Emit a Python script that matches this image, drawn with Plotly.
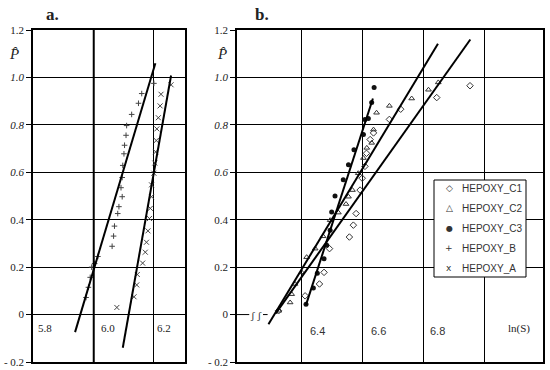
import plotly.graph_objects as go

# ---- panel a data ----
b_x = [5.974, 5.982, 5.988, 5.993, 6.003, 6.014, 6.062, 6.067, 6.070, 6.081, 6.085,
       6.096, 6.092, 6.096, 6.098, 6.102, 6.104, 6.109, 6.111, 6.128, 6.151, 6.162, 6.203]
b_y = [0.072, 0.115, 0.157, 0.200, 0.215, 0.245, 0.288, 0.331, 0.373, 0.426, 0.455,
       0.497, 0.535, 0.578, 0.629, 0.678, 0.714, 0.756, 0.797, 0.844, 0.891, 0.932, 0.975]

a_x = [6.078, 6.136, 6.145, 6.147, 6.165, 6.174, 6.178, 6.183, 6.188, 6.191, 6.195,
       6.195, 6.203, 6.206, 6.209, 6.211, 6.213, 6.218, 6.224, 6.227, 6.261]
a_y = [0.030, 0.075, 0.125, 0.169, 0.217, 0.263, 0.305, 0.353, 0.405, 0.448, 0.497,
       0.547, 0.596, 0.639, 0.686, 0.734, 0.783, 0.830, 0.880, 0.929, 0.969]

fit_b_x = [5.937, 6.208]
fit_b_y = [-0.074, 1.060]
fit_a_x = [6.098, 6.261]
fit_a_y = [-0.140, 1.008]

# ---- panel b data ----
c1_x = [6.324, 6.411, 6.458, 6.473, 6.491, 6.556, 6.569, 6.578, 6.591, 6.598, 6.607,
        6.612, 6.624, 6.635, 6.687, 6.724, 6.842, 6.951]
c1_y = [0.016, 0.079, 0.129, 0.178, 0.278, 0.327, 0.377, 0.426, 0.525, 0.575, 0.625,
        0.680, 0.738, 0.766, 0.823, 0.866, 0.915, 0.965]

c2_x = [6.325, 6.362, 6.367, 6.378, 6.400, 6.416, 6.444, 6.470, 6.493, 6.520, 6.545,
        6.553, 6.566, 6.585, 6.602, 6.613, 6.629, 6.635, 6.645, 6.687, 6.760, 6.815, 6.847]
c2_y = [0.016, 0.051, 0.086, 0.129, 0.178, 0.242, 0.278, 0.330, 0.398, 0.430, 0.466,
        0.497, 0.525, 0.596, 0.660, 0.703, 0.724, 0.780, 0.851, 0.880, 0.911, 0.948, 0.979]

c3_x = [6.414, 6.438, 6.451, 6.473, 6.482, 6.493, 6.498, 6.509, 6.536, 6.553, 6.571,
        6.602, 6.607, 6.618, 6.629, 6.637]
c3_y = [0.044, 0.112, 0.174, 0.235, 0.292, 0.356, 0.433, 0.500, 0.568, 0.632, 0.695,
        0.759, 0.823, 0.827, 0.894, 0.958]

fit_c1_x = [6.315, 6.952]
fit_c1_y = [0.005, 1.160]
fit_c2_x = [6.291, 6.846]
fit_c2_y = [-0.041, 1.142]
fit_c3_x = [6.414, 6.633]
fit_c3_y = [0.041, 0.911]

series_names = ["HEPOXY_C1", "HEPOXY_C2", "HEPOXY_C3", "HEPOXY_B", "HEPOXY_A"]
series_glyphs = ["◇", "△", "●", "+", "x"]

y_ticks = [-0.2, 0, 0.2, 0.4, 0.6, 0.8, 1.0, 1.2]
y_text = ["- 0.2", "0", "0.2", "0.4", "<i>0.6</i>", "<i>0.8</i>", "<i>1.0</i>", "1.2"]
xa_labels = ["5.8", "6.0", "6.2"]
xa_pos = [5.805, 6.018, 6.207]
xb_labels = ["6.4", "6.6", "6.8"]
xb_pos = [6.42, 6.62, 6.813]

SERIF = "Liberation Serif"
SANS = "Liberation Sans"
INK = "#111111"
W, H = 550, 370


def px_x(p):
    return p / W


def px_y(p):
    return 1 - p / H


fig = go.Figure()

fig.add_trace(go.Scatter(x=c1_x, y=c1_y, mode="markers", name="HEPOXY_C1", xaxis="x2", yaxis="y2",
                         marker=dict(symbol="diamond-open", size=5, color="#333", line=dict(width=1))))
fig.add_trace(go.Scatter(x=c2_x, y=c2_y, mode="markers", name="HEPOXY_C2", xaxis="x2", yaxis="y2",
                         marker=dict(symbol="triangle-up-open", size=5, color="#333", line=dict(width=1))))
fig.add_trace(go.Scatter(x=c3_x, y=c3_y, mode="markers", name="HEPOXY_C3", xaxis="x2", yaxis="y2",
                         marker=dict(symbol="circle", size=5, color=INK)))
fig.add_trace(go.Scatter(x=b_x, y=b_y, mode="markers", name="HEPOXY_B", xaxis="x", yaxis="y",
                         marker=dict(symbol="cross-thin", size=4, color="#888", line=dict(width=1))))
fig.add_trace(go.Scatter(x=a_x, y=a_y, mode="markers", name="HEPOXY_A", xaxis="x", yaxis="y",
                         marker=dict(symbol="x-thin", size=5, color="#333", line=dict(width=1))))

line_style = dict(color="black", width=2)
for fx, fy, xa, ya in [(fit_b_x, fit_b_y, "x", "y"), (fit_a_x, fit_a_y, "x", "y"),
                       (fit_c1_x, fit_c1_y, "x2", "y2"), (fit_c2_x, fit_c2_y, "x2", "y2"),
                       (fit_c3_x, fit_c3_y, "x2", "y2")]:
    fig.add_trace(go.Scatter(x=fx, y=fy, mode="lines", line=line_style, showlegend=False,
                             xaxis=xa, yaxis=ya, hoverinfo="skip", cliponaxis=False))

ydom = [px_y(362), px_y(30)]
axis_common = dict(showline=True, mirror=True, linecolor="black", linewidth=1.5,
                   ticks="", showticklabels=False, zeroline=False, automargin=False)
yaxis_common = dict(range=[-0.2, 1.2], domain=ydom, tickmode="array", tickvals=y_ticks,
                    ticktext=y_text, ticks="outside", ticklen=5, tickcolor="black",
                    showline=True, mirror=True, linecolor="black", linewidth=1.5,
                    zeroline=False, automargin=False,
                    tickfont=dict(family=SERIF, size=11, color="#222"))

fig.update_layout(
    width=W, height=H,
    margin=dict(l=0, r=0, t=0, b=0, autoexpand=False),
    paper_bgcolor="white", plot_bgcolor="white",
    showlegend=False,
    xaxis=dict(axis_common, domain=[px_x(33), px_x(185)], range=[5.795, 6.308],
               tickvals=[6.0, 6.2], showgrid=True, gridcolor="black", gridwidth=1),
    yaxis=dict(yaxis_common, anchor="x", showgrid=True, gridcolor="black", gridwidth=1),
    xaxis2=dict(axis_common, domain=[px_x(237), px_x(543)], range=[6.188, 7.19], anchor="y2",
                tickvals=[6.4, 6.6, 6.8, 7.0], showgrid=True, gridcolor="black", gridwidth=1),
    yaxis2=dict(yaxis_common, anchor="x2", showgrid=False,
                minor=dict(tickvals=[0.2, 0.4, 0.6, 0.8, 1.0], showgrid=True,
                           gridcolor="black", gridwidth=1, ticks="")),
)

# thicker 6.0 gridline in panel a
fig.add_shape(type="line", xref="x", yref="y domain", x0=6.0, x1=6.0, y0=0, y1=1,
              line=dict(color="black", width=2))
# short zero line with break mark in panel b
fig.add_shape(type="line", xref="x2 domain", yref="y2", x0=0, x1=0.04, y0=0, y1=0,
              line=dict(color="black", width=1))
fig.add_shape(type="line", xref="x2 domain", yref="y2", x0=0.085, x1=0.1, y0=0, y1=0,
              line=dict(color="black", width=1))
fig.add_annotation(text="ʃ ʃ", xref="x2 domain", yref="y2", x=0.062, y=0, showarrow=False,
                   font=dict(family=SERIF, size=11, color="#333"), xanchor="center", yanchor="middle")

# legend box (panel b)
fig.add_shape(type="rect", xref="paper", yref="paper", x0=px_x(434), x1=px_x(526),
              y0=px_y(277), y1=px_y(180), line=dict(color="black", width=1), fillcolor="white",
              layer="above")
legend_rows = [188, 208, 228, 248, 268]
glyph_sizes = [9, 9, 8, 9, 9]
for name, glyph, row, gs in zip(series_names, series_glyphs, legend_rows, glyph_sizes):
    fig.add_annotation(text=glyph, x=px_x(449), y=px_y(row), xref="paper", yref="paper",
                       xanchor="center", yanchor="middle", showarrow=False,
                       font=dict(family="DejaVu Sans", size=gs, color="#333"))
    fig.add_annotation(text=name, x=px_x(460), y=px_y(row), xref="paper", yref="paper",
                       xanchor="left", yanchor="middle", showarrow=False,
                       font=dict(family=SANS, size=10, color="#333"))

for t, p in zip(xa_labels, xa_pos):
    fig.add_annotation(text=t, x=p, y=-0.057, xref="x", yref="y", showarrow=False,
                       xanchor="left", yanchor="middle", font=dict(family=SERIF, size=11, color="#222"))
for t, p in zip(xb_labels, xb_pos):
    fig.add_annotation(text=t, x=p, y=-0.07, xref="x2", yref="y2", showarrow=False,
                       xanchor="left", yanchor="middle", font=dict(family=SANS, size=11, color="#333"))
fig.add_annotation(text="ln(S)", x=6.312, y=-0.057, xref="x", yref="y", showarrow=False,
                   xanchor="left", yanchor="middle", font=dict(family=SERIF, size=11, color="#222"))
fig.add_annotation(text="ln(S)", x=7.07, y=-0.06, xref="x2", yref="y2", showarrow=False,
                   xanchor="left", yanchor="middle", font=dict(family=SERIF, size=11, color="#222"))

for p in [14, 222]:
    fig.add_annotation(text="<i>P̂</i>", x=px_x(p), y=px_y(54), xref="paper", yref="paper",
                       xanchor="center", yanchor="middle", showarrow=False,
                       font=dict(family=SERIF, size=15, color="#222"))
fig.add_annotation(text="<b>a.</b>", x=px_x(52), y=px_y(14), xref="paper", yref="paper",
                   xanchor="center", yanchor="middle", showarrow=False,
                   font=dict(family=SERIF, size=17, color="#222"))
fig.add_annotation(text="<b>b.</b>", x=px_x(262), y=px_y(14), xref="paper", yref="paper",
                   xanchor="center", yanchor="middle", showarrow=False,
                   font=dict(family=SERIF, size=17, color="#222"))

# the page body has a default 8px margin; drop it so the figure sits at the window corner
fig.write_html("out.html", config={"displayModeBar": False},
               post_script="document.body.style.margin='0';")
